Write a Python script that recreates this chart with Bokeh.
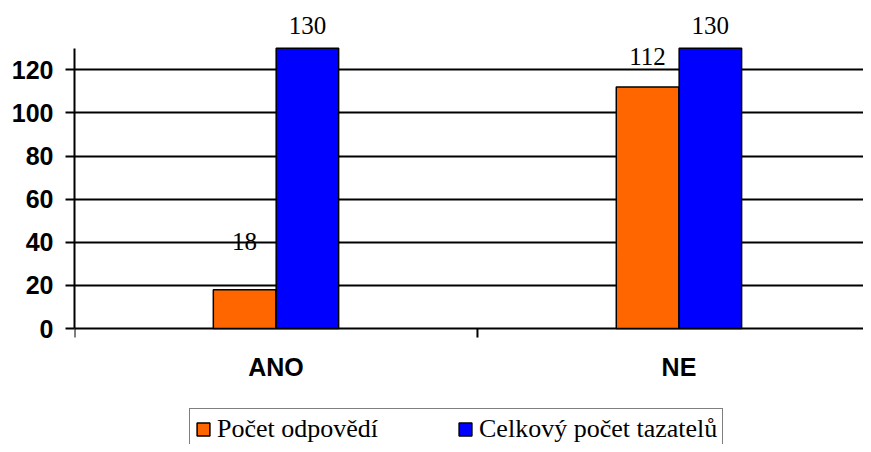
import numpy as np
from bokeh.plotting import figure
from bokeh.models import Range1d, FixedTicker, Legend, LegendItem, ColumnDataSource
from bokeh.core.properties import value
from bokeh.embed import file_html
from bokeh.resources import INLINE

# ---- data ----
categories = ["ANO", "NE"]
pocet_odpovedi = [18, 112]
celkovy_pocet = [130, 130]
series_names = ["Počet odpovědí", "Celkový počet tazatelů"]
y_ticks = [0, 20, 40, 60, 80, 100, 120]
y_axis_max = 130

ORANGE = "#FF6600"
BLUE = "#0000FF"

n = len(categories)
idx = np.arange(n) + 0.5
bounds_x = np.arange(n + 1)
bar_w = 0.155
dodge = 0.078

p = figure(width=863, height=444, output_backend="svg", toolbar_location=None,
           x_range=Range1d(0, 1.958), y_range=Range1d(-53.8, 146.6),
           min_border_left=74, min_border_right=0, min_border_top=12,
           min_border_bottom=0)
p.outline_line_color = None
p.background_fill_color = "white"
p.border_fill_color = "white"
p.xaxis.visible = False

# grid
p.xgrid.visible = False
p.ygrid.ticker = FixedTicker(ticks=y_ticks)
p.ygrid.grid_line_color = "black"
p.ygrid.grid_line_width = 2

# y axis
ya = p.yaxis[0]
ya.ticker = FixedTicker(ticks=y_ticks)
ya.bounds = (0, y_axis_max)
ya.axis_line_color = "black"
ya.axis_line_width = 2
ya.major_tick_line_color = "black"
ya.major_tick_line_width = 2
ya.major_tick_out = 9
ya.major_tick_in = 0
ya.minor_tick_line_color = None
ya.major_label_standoff = 12
ya.major_label_text_font = "Liberation Sans"
ya.major_label_text_font_style = "bold"
ya.major_label_text_font_size = "25px"
ya.major_label_text_color = "black"

# category axis: boundary ticks and labels
p.ray(x=bounds_x, y=np.zeros(n + 1), length=9, length_units="screen",
      angle=-np.pi / 2, line_color="black", line_width=2)
p.text(x=idx, y=np.zeros(n), text=categories, y_offset=38,
       text_align="center", text_baseline="alphabetic",
       text_font=value("Liberation Sans"), text_font_style="bold",
       text_font_size="25px", text_color="black")

# bars
src_o = ColumnDataSource(dict(x=idx - dodge, top=pocet_odpovedi,
                              lbl=[str(v) for v in pocet_odpovedi], dy=[-48, -31]))
src_b = ColumnDataSource(dict(x=idx + dodge, top=celkovy_pocet,
                              lbl=[str(v) for v in celkovy_pocet], dy=[-23, -23]))
r_o = p.vbar(x="x", top="top", width=bar_w, source=src_o, fill_color=ORANGE,
             line_color="black", line_width=1.5)
r_b = p.vbar(x="x", top="top", width=bar_w, source=src_b, fill_color=BLUE,
             line_color="black", line_width=1.5)

for src in (src_o, src_b):
    p.text(x="x", y="top", text="lbl", y_offset="dy", source=src,
           text_align="center", text_baseline="alphabetic",
           text_font=value("Liberation Serif"), text_font_size="25px",
           text_color="black")

legend = Legend(items=[LegendItem(label=series_names[0], renderers=[r_o]),
                       LegendItem(label=series_names[1], renderers=[r_b])],
                orientation="horizontal", location=(115, -6), margin=0,
                padding=5, spacing=79, glyph_width=16, glyph_height=16,
                label_standoff=6, label_text_font="Liberation Serif",
                label_text_font_size="26px", label_text_color="black",
                border_line_color="black", border_line_width=1.5,
                background_fill_color="white", background_fill_alpha=1)
p.add_layout(legend, "center")

open("out.html", "w").write(file_html(p, INLINE))
